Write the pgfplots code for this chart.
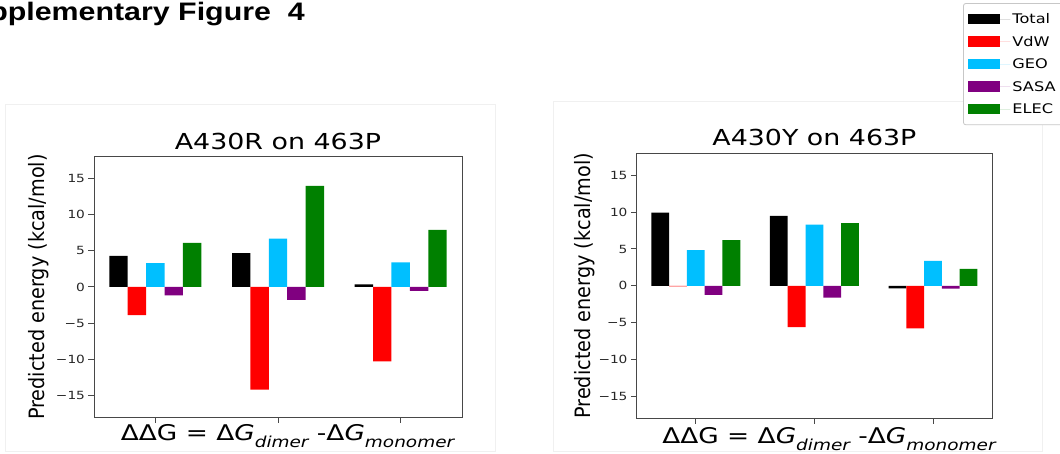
\documentclass[border=0pt]{standalone}
\usepackage{pgfplots}
\pgfplotsset{compat=1.18}
\usepackage{fontspec}
\setmainfont{DejaVu Sans}
\newfontfamily\mpl[FakeStretch=1.22, ItalicFont={DejaVu Sans Oblique}]{DejaVu Sans}
\newfontfamily\ylfont{DejaVu Sans}
\newfontfamily\supfont[FakeStretch=1.2]{Liberation Sans}
\definecolor{cTotal}{HTML}{000000}
\definecolor{cVdW}{HTML}{FF0000}
\definecolor{cGEO}{HTML}{00BFFF}
\definecolor{cSASA}{HTML}{800080}
\definecolor{cELEC}{HTML}{008000}
\definecolor{spine}{HTML}{484848}

\pgfplotsset{
  panel/.style={
    scale only axis,
    xmin=-0.5, xmax=2.5, ymin=-18, ymax=18,
    xtick={0,1,2}, xticklabels={},
    ytick={-15,-10,-5,0,5,10,15},
    yticklabels={−15,−10,−5,0,5,10,15},
    tick pos=left, tick align=outside,
    major tick length=5.5bp,
    axis line style={draw=spine, line width=1bp},
    every tick/.style={draw=spine, line width=1bp},
    ticklabel style={font=\mpl\fontsize{11.3}{13}\selectfont, text=black!85},
    ybar, bar width=0.15,
    every axis title/.style={at={(0.5,1)}, anchor=base, yshift=7.7bp, font=\mpl\fontsize{22.1}{26}\selectfont},
    ylabel={\scalebox{1}[1.1]{\ylfont\fontsize{19.3}{22}\selectfont Predicted energy (kcal/mol)}},
    xlabel={\mpl\fontsize{21.7}{26}\selectfont ΔΔG = Δ\textit{G}\raisebox{-0.32em}{\fontsize{15.2}{18}\selectfont\itshape dimer} -Δ\textit{G}\raisebox{-0.32em}{\fontsize{15.2}{18}\selectfont\itshape monomer}},
  },
  bars/.style={draw=none, fill=#1},
}

\begin{document}
\begin{tikzpicture}
\useasboundingbox (0bp,0bp) rectangle (1060bp,454bp);
\clip (0bp,0bp) rectangle (1060bp,454bp);
\fill[white] (0bp,0bp) rectangle (1060bp,454bp);

% faint panel frames
\draw[black!6, line width=0.8bp] (5bp,3bp) rectangle (495bp,350bp);
\draw[black!6, line width=0.8bp] (553bp,3bp) rectangle (1042bp,353bp);

\node[anchor=base east, font=\supfont\bfseries\fontsize{25.4}{30}\selectfont, inner sep=0pt] at (305bp,433.3bp) {Supplementary Figure\ \ 4};

% Left panel
\begin{axis}[panel,
  at={(94bp,37bp)}, anchor=south west,
  width=368bp, height=260bp,
  title={A430R on 463P},
  every axis y label/.style={at={(axis description cs:-0.1345,0.5)}, anchor=base, rotate=90},
  every axis x label/.style={at={(axis description cs:0.526,-0.0923)}, anchor=base},
]
\addplot[bars=cTotal, bar shift=-0.3] coordinates {(0,4.3) (1,4.7) (2,0.37)};
\addplot[bars=cVdW, bar shift=-0.15] coordinates {(0,-3.9) (1,-14.2) (2,-10.3)};
\addplot[bars=cGEO, bar shift=0] coordinates {(0,3.3) (1,6.7) (2,3.4)};
\addplot[bars=cSASA, bar shift=0.15] coordinates {(0,-1.15) (1,-1.8) (2,-0.55)};
\addplot[bars=cELEC, bar shift=0.3] coordinates {(0,6.1) (1,14.0) (2,7.9)};
\end{axis}

% Right panel
\begin{axis}[panel,
  at={(636.5bp,35.7bp)}, anchor=south west,
  width=355.8bp, height=265bp,
  title={A430Y on 463P},
  every axis y label/.style={at={(axis description cs:-0.128,0.5)}, anchor=base, rotate=90},
  every axis x label/.style={at={(axis description cs:0.541,-0.0943)}, anchor=base},
  legend image code/.code={\fill[#1, sharp corners] (0bp,-5.3bp) rectangle (32bp,5.3bp); \path (0bp,0bp) -- (42bp,0bp);},
  legend cell align=left,
  legend style={at={(axis description cs:0.9177,1.567)}, anchor=north west,
    draw=black!22, line width=0.8bp, rounded corners=2.5bp, fill=white,
    font=\mpl\fontsize{13.3}{15}\selectfont,
    inner xsep=5bp, inner ysep=6bp, row sep=3.1bp,
    nodes={inner sep=2bp, text height=12.4bp, text depth=3bp},
    cells={anchor=west}},
]
\addplot[bars=cTotal, bar shift=-0.3] coordinates {(0,9.95) (1,9.5) (2,-0.35)};
\addplot[bars=cVdW, bar shift=-0.15] coordinates {(0,-0.08) (1,-5.6) (2,-5.8)};
\addplot[bars=cGEO, bar shift=0] coordinates {(0,4.86) (1,8.3) (2,3.4)};
\addplot[bars=cSASA, bar shift=0.15] coordinates {(0,-1.23) (1,-1.6) (2,-0.4)};
\addplot[bars=cELEC, bar shift=0.3] coordinates {(0,6.2) (1,8.5) (2,2.3)};
\legend{Total,VdW,GEO,SASA,ELEC}
\end{axis}
\end{tikzpicture}
\end{document}
